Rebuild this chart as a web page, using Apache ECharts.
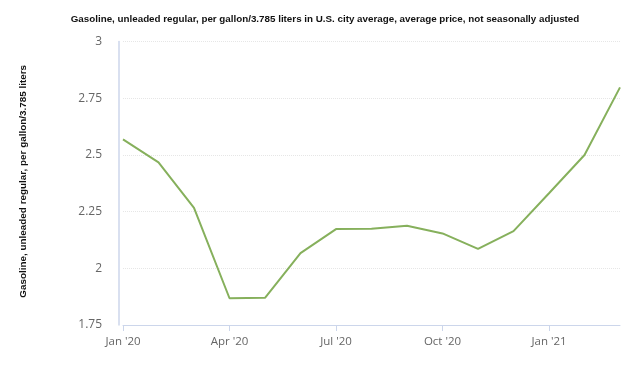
<!DOCTYPE html>
<html><head><meta charset="utf-8">
<script src="https://cdn.jsdelivr.net/npm/echarts@6/dist/echarts.min.js"></script>
<style>html,body{margin:0;padding:0;background:#fff}#c{width:634px;height:365px}</style>
</head><body><div id="c"></div>
<script>
const titleText = "Gasoline, unleaded regular, per gallon/3.785 liters in U.S. city average, average price, not seasonally adjusted";
const yAxisTitle = "Gasoline, unleaded regular, per gallon/3.785 liters";
const months = ["Jan '20","Feb '20","Mar '20","Apr '20","May '20","Jun '20","Jul '20","Aug '20","Sep '20","Oct '20","Nov '20","Dec '20","Jan '21","Feb '21","Mar '21"];
const prices = [2.569,2.467,2.267,1.868,1.870,2.067,2.173,2.175,2.188,2.154,2.086,2.164,2.331,2.500,2.798];
const yTicks = [1.75,2,2.25,2.5,2.75,3];
const labeledMonths = ["Jan '20","Apr '20","Jul '20","Oct '20","Jan '21"];

const chart = echarts.init(document.getElementById('c'));
chart.setOption({
  animation:false,
  title:{text:titleText,left:320,textAlign:'center',top:9,
    textStyle:{fontFamily:'Liberation Sans',fontWeight:'bold',fontSize:9.8,color:'#111'}},
  grid:{left:123,right:14,top:41.6,bottom:40},
  xAxis:{type:'category',data:months,boundaryGap:false,
    axisLine:{show:true,lineStyle:{color:'#ccd6eb',width:1}},
    axisTick:{show:true,length:6,lineStyle:{color:'#ccd6eb'},
      interval:(i,v)=>labeledMonths.includes(v)},
    axisLabel:{interval:(i,v)=>labeledMonths.includes(v),color:'#666',fontSize:11.5,margin:11,fontFamily:'Open Sans'},
    splitLine:{show:false}},
  yAxis:{type:'value',min:yTicks[0],max:yTicks[yTicks.length-1],interval:0.25,offset:4,
    name:yAxisTitle,nameLocation:'middle',nameGap:91,
    nameTextStyle:{fontFamily:'Liberation Sans',fontWeight:'bold',fontSize:9.9,color:'#111',padding:[0,0,0,4]},
    axisLine:{show:true,lineStyle:{color:'#ccd6eb',width:1.5}},
    axisTick:{show:false},
    axisLabel:{color:'#666',fontSize:12,margin:17,fontFamily:'Open Sans'},
    splitLine:{show:true,lineStyle:{color:'#e6e6e6',type:'dotted',width:1}}},
  series:[{type:'line',data:prices,symbol:'none',
    lineStyle:{color:'#86b05c',width:2}}]
});
</script></body></html>
